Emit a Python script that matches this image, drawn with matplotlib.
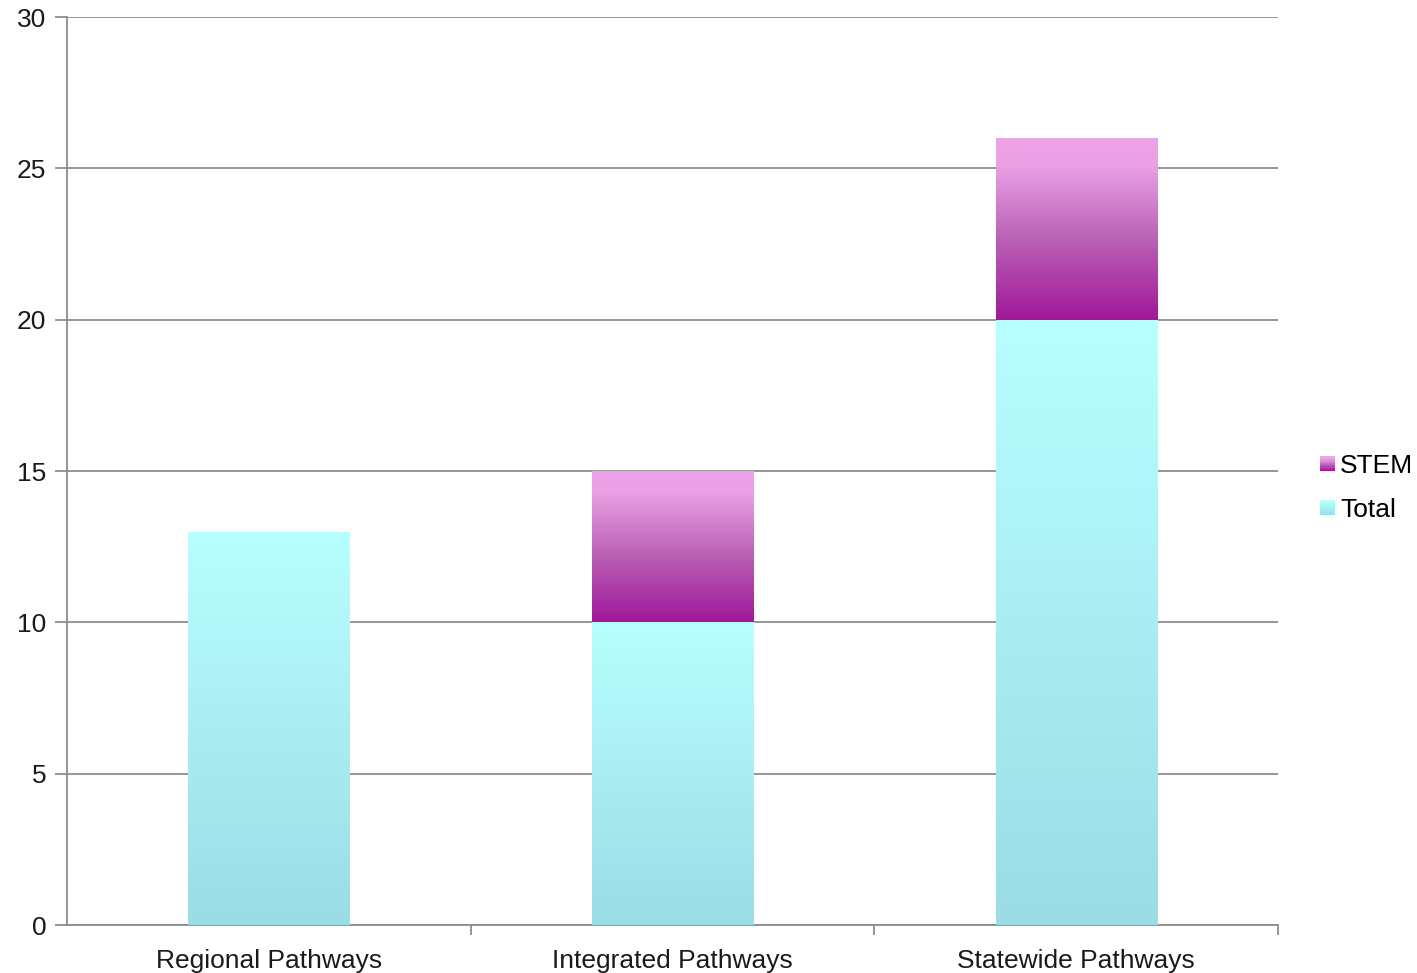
import numpy as np
import matplotlib.pyplot as plt
from matplotlib.colors import LinearSegmentedColormap
from matplotlib.patches import Rectangle
from matplotlib.legend_handler import HandlerBase

plt.rcParams['font.family'] = ['Liberation Sans', 'DejaVu Sans']

categories = ["Regional Pathways", "Integrated Pathways", "Statewide Pathways"]
total = [13, 10, 20]
stem = [0, 5, 6]

total_cmap = LinearSegmentedColormap.from_list("total", ["#9BDCE5", "#B8FFFF"])
stem_cmap = LinearSegmentedColormap.from_list(
    "stem", [(0, "#A0189A"), (0.45, "#BA62B6"), (0.85, "#EAA0E5"), (1, "#EDA3E8")])


def gradient_fill(ax, bars, cmap):
    grad = np.linspace(0, 1, 256).reshape(-1, 1)
    for b in bars:
        if b.get_height() <= 0:
            continue
        x0, y0 = b.get_x(), b.get_y()
        im = ax.imshow(grad, cmap=cmap, origin='lower', aspect='auto',
                       extent=(x0, x0 + b.get_width(), y0, y0 + b.get_height()),
                       zorder=3)
        im.set_clip_path(b)
        b.set_facecolor('none')


class GradientHandler(HandlerBase):
    def __init__(self, cmap):
        super().__init__()
        self.cmap = cmap

    def create_artists(self, legend, orig_handle, xdescent, ydescent,
                       width, height, fontsize, trans):
        n = 12
        side = min(width, height) * 0.8
        x = -xdescent + width - side
        y = -ydescent + (height - side) / 2
        arts = []
        for i in range(n):
            r = Rectangle((x, y + side * i / n), side, side / n + 0.3,
                          facecolor=self.cmap(i / (n - 1)), edgecolor='none',
                          transform=trans)
            arts.append(r)
        return arts


fig = plt.figure(figsize=(14.17, 9.73), dpi=100)
ax = fig.add_axes([0.0473, 0.0493, 0.8547, 0.9332])

x = np.arange(len(categories))
b1 = ax.bar(x, total, width=0.4, color='none', edgecolor='none', zorder=3)
b2 = ax.bar(x, stem, width=0.4, bottom=total, color='none', edgecolor='none', zorder=3)
gradient_fill(ax, b1, total_cmap)
gradient_fill(ax, b2, stem_cmap)

ax.set_xlim(-0.5, 2.5)
ax.set_ylim(0, 30)
ax.set_yticks(range(0, 31, 5))
ax.yaxis.grid(True, color='#8c8c8c', linewidth=1.3, zorder=0)
ax.set_axisbelow(True)

ax.set_xticks(x)
ax.set_xticklabels(categories, fontsize=19, color='#1a1a1a')
ax.tick_params(axis='x', length=0, pad=17)
ax.set_xticks([0.5, 1.5, 2.5], minor=True)
ax.tick_params(axis='x', which='minor', length=7, color='#8c8c8c', width=1.3)
ax.tick_params(axis='y', labelsize=19, labelcolor='#1a1a1a', length=9,
               color='#8c8c8c', width=1.3, pad=6)

for s in ['top', 'right']:
    ax.spines[s].set_visible(False)
for s in ['left', 'bottom']:
    ax.spines[s].set_color('#8c8c8c')
    ax.spines[s].set_linewidth(1.3)

h_stem = Rectangle((0, 0), 1, 1)
h_total = Rectangle((0, 0), 1, 1)
ax.legend([h_stem, h_total], ["STEM", "Total"],
          handler_map={h_stem: GradientHandler(stem_cmap),
                       h_total: GradientHandler(total_cmap)},
          loc='center left', bbox_to_anchor=(1.0295, 0.481), frameon=False,
          borderpad=0, borderaxespad=0,
          fontsize=19, handlelength=0.8, handletextpad=0.2, labelspacing=0.76)

fig.savefig("out.png", dpi=100)
